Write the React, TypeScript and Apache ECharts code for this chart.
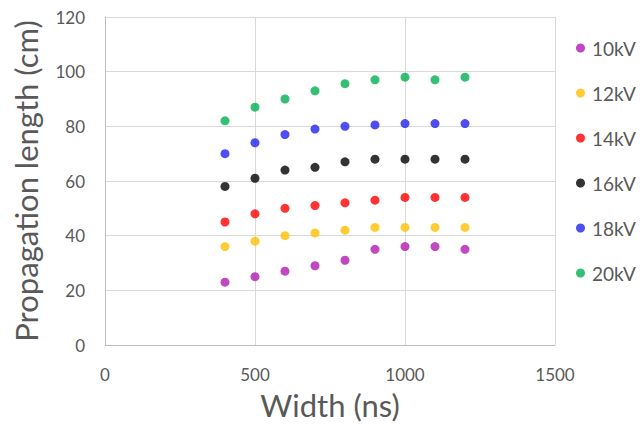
import React, { useEffect, useRef } from "react";
import * as echarts from "echarts";

const widths = [400, 500, 600, 700, 800, 900, 1000, 1100, 1200];
const seriesNames = ["10kV", "12kV", "14kV", "16kV", "18kV", "20kV"];
const v10 = [23, 25, 27, 29, 31, 35, 36, 36, 35];
const v12 = [36, 38, 40, 41, 42, 43, 43, 43, 43];
const v14 = [45, 48, 50, 51, 52, 53, 54, 54, 54];
const v16 = [58, 61, 64, 65, 67, 68, 68, 68, 68];
const v18 = [70, 74, 77, 79, 80, 80.5, 81, 81, 81];
const v20 = [82, 87, 90, 93, 95.6, 97, 98, 97, 98];
const colors = ["#B01AB0", "#FFC000", "#FF0000", "#000000", "#2222F0", "#00B050"];

export default function App() {
  const ref = useRef<HTMLDivElement>(null);
  useEffect(() => {
    if (!ref.current) return;
    const chart = echarts.init(ref.current, null, { renderer: "svg" });
    const all = [v10, v12, v14, v16, v18, v20];
    const font = "Lato, 'Open Sans', sans-serif";
    chart.setOption({
      animation: false,
      textStyle: { fontFamily: font },
      grid: { left: 105, top: 17, width: 450, height: 330 },
      legend: {
        orient: "vertical",
        left: 571,
        top: 33,
        icon: "circle",
        itemWidth: 9,
        itemHeight: 9,
        itemGap: 25,
        textStyle: { color: "#595959", fontSize: 19, fontFamily: font, lineHeight: 20, padding: [0, 0, 0, 2] },
        data: seriesNames,
      },
      xAxis: {
        type: "value",
        min: 0,
        max: 1500,
        interval: 500,
        name: "Width (ns)",
        nameLocation: "middle",
        nameGap: 44,
        nameTextStyle: { color: "#595959", fontSize: 31, fontFamily: font },
        axisLine: { show: true, lineStyle: { color: "#BFBFBF" } },
        axisTick: { show: false },
        axisLabel: { color: "#595959", fontSize: 17, margin: 21, fontFamily: font, formatter: (v: number) => String(v) },
        splitLine: { show: true, lineStyle: { color: "#D9D9D9" } },
      },
      yAxis: {
        type: "value",
        min: 0,
        max: 120,
        interval: 20,
        name: "Propagation length (cm)",
        nameLocation: "middle",
        nameGap: 64,
        nameTextStyle: { color: "#595959", fontSize: 31, fontFamily: font },
        axisLine: { show: true, lineStyle: { color: "#BFBFBF" } },
        axisTick: { show: false },
        axisLabel: { color: "#595959", fontSize: 17, margin: 20, fontFamily: font },
        splitLine: { show: true, lineStyle: { color: "#D9D9D9" } },
      },
      series: seriesNames.map((n, i) => ({
        name: n,
        type: "scatter",
        symbol: "circle",
        symbolSize: 9,
        itemStyle: { color: colors[i] },
        data: widths.map((w, j) => [w, all[i][j]]),
      })),
    });
    return () => chart.dispose();
  }, []);
  return <div ref={ref} style={{ width: 644, height: 425, position: "absolute", left: 0, top: 0 }} />;
}
